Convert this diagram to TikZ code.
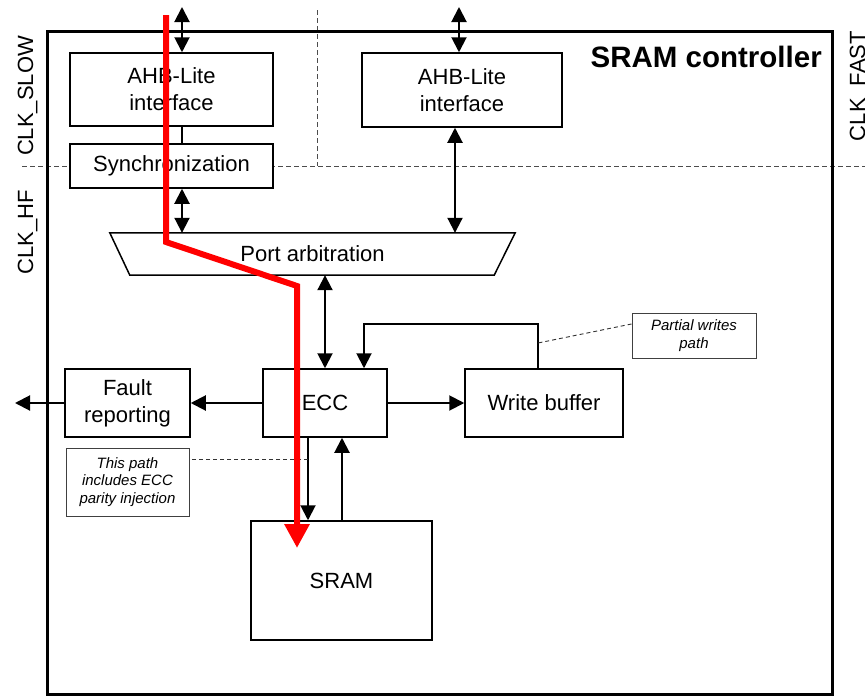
\documentclass[tikz,border=0pt]{standalone}
\usepackage{fontspec}
\setmainfont{Liberation Sans}
\usetikzlibrary{arrows.meta}

\begin{document}
\begin{tikzpicture}[x=1pt, y=-1pt,
  blk/.style={draw, line width=1.5pt, fill=white, inner sep=0pt, align=center},
  note/.style={draw=black!75, line width=1pt, fill=white, inner sep=0pt, align=center, font=\fontsize{15}{17.5}\selectfont\itshape},
  lead/.style={draw=black!80, line width=0.9pt, dash pattern=on 4pt off 3pt},
  zone/.style={draw=black!70, line width=0.9pt, dash pattern=on 5pt off 3pt},
  flow/.style={line width=2pt, >={Triangle[length=15pt,width=15pt]}},
  hot/.style={draw=red, line width=6pt, >={Triangle[length=24pt,width=24pt]}},
  clk/.style={rotate=90, anchor=base, inner sep=0pt},
  font=\fontsize{22}{27}\selectfont]
\useasboundingbox (0,0) rectangle (865,696);

\draw[zone] (22,166) -- (865,166);
\draw[zone] (317,10) -- (317,166);
\draw[line width=3pt] (47,31) rectangle (832,694);

\node[inner sep=0pt, anchor=east, font=\fontsize{29.5}{32}\selectfont\bfseries] (title) at (822,57) {SRAM controller};
\node[clk] (slow) at (33,96) {CLK\_SLOW};
\node[clk] (hf) at (33,232) {CLK\_HF};
\node[clk] (fast) at (865,86) {CLK\_FAST};

\node[blk, minimum width=203pt, minimum height=73pt] (ahbL) at (171.5,89.5) {AHB-Lite\\interface};
\node[blk, minimum width=203pt, minimum height=44pt] (sync) at (171.5,166) {Synchronization};
\node[blk, minimum width=200pt, minimum height=74pt] (ahbR) at (462,90) {AHB-Lite\\interface};
\node[inner sep=0pt, minimum width=405pt, minimum height=42pt] (arb) at (312.5,254) {Port arbitration};
\draw[line width=1.5pt] (arb.north west) -- (arb.north east) -- ([xshift=-21pt]arb.south east) -- ([xshift=20pt]arb.south west) -- cycle;
\node[blk, minimum width=124pt, minimum height=68pt] (ecc) at (325,403) {ECC};
\node[blk, minimum width=125pt, minimum height=68pt] (fault) at (127.5,403) {Fault\\reporting};
\node[blk, minimum width=158pt, minimum height=68pt] (wbuf) at (544,403) {Write buffer};
\node[blk, minimum width=181pt, minimum height=119pt] (sram) at (341.5,580.5) {SRAM};
\node[note, minimum width=123pt, minimum height=68pt] (noteA) at (127.5,482) {This path\\includes ECC\\parity injection};
\node[note, minimum width=124pt, minimum height=45pt] (noteB) at (694,335.5) {Partial writes\\path};

\coordinate (inL) at (182,7);
\coordinate (inR) at (459,7);
\coordinate (outF) at (15,403);
\coordinate (fbtop) at (450,324);
\coordinate (tapA) at (308,459);
\coordinate (tapB) at (538,343);
\coordinate (r0) at (166,15);
\coordinate (r1) at (166,242);
\coordinate (r2) at (297,286);
\coordinate (r3) at (297,548);

\draw[flow, <->] (inL) -- ([xshift=10.5pt]ahbL.north);
\draw[line width=1.5pt] ([xshift=10.5pt]ahbL.south) -- ([xshift=10.5pt]sync.north);
\draw[flow, <->] ([xshift=10.5pt]sync.south) -- ([xshift=10.5pt]sync.south |- arb.north);
\draw[flow, <->] (inR) -- ([xshift=-3pt]ahbR.north);
\draw[flow, <->] ([xshift=-7pt]ahbR.south) -- ([xshift=-7pt]ahbR.south |- arb.north);
\draw[flow, <->] (ecc.north |- arb.south) -- (ecc.north);
\draw[flow, ->] ([xshift=-6pt]wbuf.north) |- ([xshift=39pt]ecc.north |- fbtop) -- ([xshift=39pt]ecc.north);
\draw[flow, ->] (ecc.east) -- (wbuf.west);
\draw[flow, ->] (ecc.west) -- (fault.east);
\draw[flow, ->] (fault.west) -- (outF);
\draw[flow, ->] ([xshift=-17pt]ecc.south) -- ([xshift=-17pt]ecc.south |- sram.north);
\draw[flow, ->] ([xshift=17pt]ecc.south |- sram.north) -- ([xshift=17pt]ecc.south);
\draw[lead] (tapA) -- (tapA -| noteA.east);
\draw[lead] ([yshift=11.5pt]noteB.west) -- (tapB);
\draw[hot, ->] (r0) -- (r1) -- (r2) -- (r3);
\end{tikzpicture}
\end{document}
